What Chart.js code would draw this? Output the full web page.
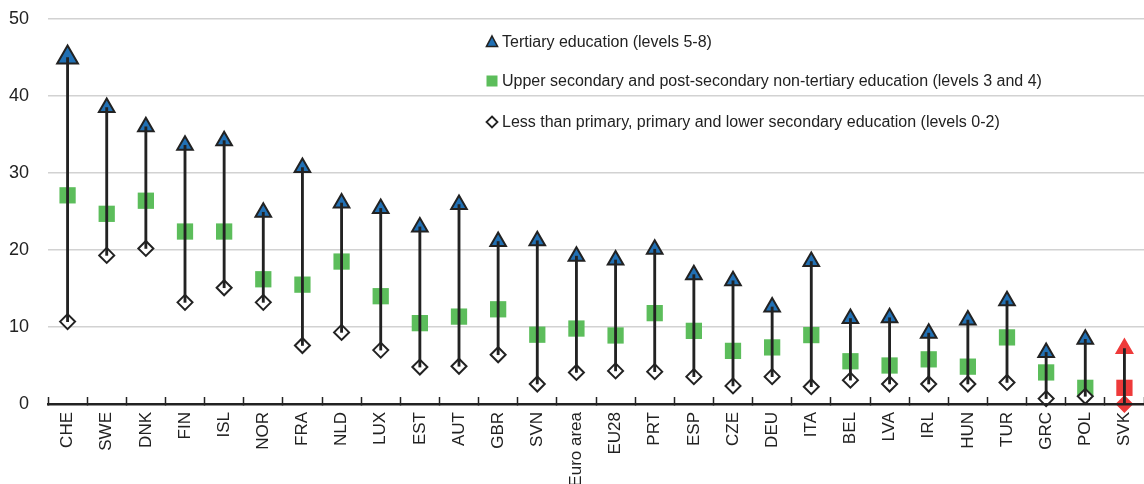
<!DOCTYPE html>
<html>
<head>
<meta charset="utf-8">
<script src="https://cdn.jsdelivr.net/npm/chart.js@4/dist/chart.umd.min.js"></script>
<style>
html,body{margin:0;padding:0;background:#fff;}
#wrap{width:1144px;height:484px;position:relative;}
</style>
</head>
<body>
<div id="wrap"><canvas id="c" width="1144" height="484"></canvas></div>
<script>
const categories = ['CHE','SWE','DNK','FIN','ISL','NOR','FRA','NLD','LUX','EST','AUT','GBR','SVN','Euro area','EU28','PRT','ESP','CZE','DEU','ITA','BEL','LVA','IRL','HUN','TUR','GRC','POL','SVK'];
const tertiary = [45.0,38.5,36.0,33.6,34.2,24.9,30.7,26.1,25.4,23.0,25.9,21.1,21.2,19.2,18.7,20.1,16.8,16.0,12.6,18.5,11.1,11.2,9.2,10.9,13.4,6.7,8.4,7.2];
const upperSecondary = [27.1,24.7,26.4,22.4,22.4,16.2,15.5,18.5,14.0,10.5,11.35,12.3,9.0,9.8,8.9,11.8,9.5,6.9,7.35,8.95,5.55,5.0,5.8,4.85,8.65,4.1,2.1,2.1];
const lowerSecondary = [10.7,19.3,20.2,13.2,15.1,13.2,7.6,9.3,7.0,4.8,4.9,6.4,2.6,4.1,4.3,4.2,3.55,2.35,3.55,2.25,3.1,2.6,2.6,2.6,2.8,0.7,1.0,0.0];
const seriesNames = ['Tertiary education (levels 5-8)','Upper secondary and post-secondary non-tertiary education (levels 3 and 4)','Less than primary, primary and lower secondary education (levels 0-2)'];
const yTicks = [0,10,20,30,40,50];
const highlight = 'SVK';

const BLUE = '#2170b4', GREEN = '#5cbd5b', RED = '#ee3a3a', INK = '#222222';
const isHi = c => categories[c.dataIndex] === highlight;

const ranges = categories.map((_, i) => {
  const v = [tertiary[i], upperSecondary[i], lowerSecondary[i]];
  return [Math.min(...v), Math.max(...v)];
});

const legendPlugin = {
  id: 'inlegend',
  afterDraw(chart) {
    const ctx = chart.ctx;
    const rows = [42, 81, 122];
    const mx = 492, tx = 502;
    ctx.save();
    ctx.font = '16px "Liberation Sans", Arial, sans-serif';
    ctx.fillStyle = INK;
    ctx.textBaseline = 'middle';
    ctx.textAlign = 'left';
    seriesNames.forEach((n, k) => {
      const y = rows[k];
      ctx.save();
      if (k === 0) {
        ctx.beginPath();
        ctx.moveTo(mx, y - 6); ctx.lineTo(mx + 5.5, y + 4.5); ctx.lineTo(mx - 5.5, y + 4.5); ctx.closePath();
        ctx.fillStyle = BLUE; ctx.fill(); ctx.lineWidth = 1.6; ctx.strokeStyle = INK; ctx.stroke();
      } else if (k === 1) {
        ctx.fillStyle = GREEN; ctx.fillRect(mx - 5.5, y - 5.5, 11, 11);
      } else {
        ctx.beginPath();
        ctx.moveTo(mx, y - 5.5); ctx.lineTo(mx + 5.5, y); ctx.lineTo(mx, y + 5.5); ctx.lineTo(mx - 5.5, y); ctx.closePath();
        ctx.fillStyle = '#fff'; ctx.fill(); ctx.lineWidth = 1.8; ctx.strokeStyle = INK; ctx.stroke();
      }
      ctx.restore();
      ctx.fillText(n, tx, y + 1);
    });
    ctx.restore();
  }
};

new Chart(document.getElementById('c'), {
  type: 'bar',
  data: {
    labels: categories,
    datasets: [
      {
        type: 'bar', label: 'range', data: ranges, backgroundColor: INK,
        barThickness: 2.2, borderWidth: 0, order: 0, grouped: false
      },
      {
        type: 'line', label: seriesNames[0], data: tertiary, showLine: false, order: 3, clip: false,
        pointStyle: 'triangle',
        pointRadius: c => c.dataIndex === 0 ? 12 : 9,
        pointBackgroundColor: c => isHi(c) ? RED : BLUE,
        pointBorderColor: c => isHi(c) ? RED : INK,
        pointBorderWidth: 2
      },
      {
        type: 'line', label: seriesNames[1], data: upperSecondary, showLine: false, order: 2, clip: false,
        pointStyle: 'rect', pointRadius: 11.5,
        pointBackgroundColor: c => isHi(c) ? RED : GREEN,
        pointBorderColor: c => isHi(c) ? RED : GREEN,
        pointBorderWidth: 0
      },
      {
        type: 'line', label: seriesNames[2], data: lowerSecondary, showLine: false, order: 1, clip: false,
        pointStyle: 'rectRot', pointRadius: 7.5,
        pointBackgroundColor: c => isHi(c) ? RED : '#ffffff',
        pointBorderColor: c => isHi(c) ? RED : INK,
        pointBorderWidth: 2
      }
    ]
  },
  options: {
    responsive: false,
    animation: false,
    layout: { autoPadding: false, padding: { top: 19, right: 0, left: 0, bottom: 0 } },
    plugins: { legend: { display: false }, tooltip: { enabled: false } },
    scales: {
      x: {
        offset: true,
        grid: { display: true, drawOnChartArea: false, drawTicks: true, tickLength: -7, offset: true, tickColor: INK, tickWidth: 1.5 },
        border: { display: true, color: INK, width: 2.5, z: 1 },
        ticks: {
          autoSkip: false, maxRotation: 90, minRotation: 90, padding: 15,
          color: INK, font: { family: '"Liberation Sans", Arial, sans-serif', size: 17 }
        },
        afterFit: s => { s.height = 80; s.paddingLeft = 0; s.paddingRight = 0; }
      },
      y: {
        min: 0, max: 50,
        afterBuildTicks: s => { s.ticks = yTicks.map(v => ({ value: v })); },
        grid: { color: '#d2d2d2', lineWidth: 1.5, drawTicks: false },
        border: { display: false },
        ticks: { padding: 19, color: INK, font: { family: '"Liberation Sans", Arial, sans-serif', size: 18 } },
        afterFit: s => { s.width = 48; s.paddingTop = 0; s.paddingBottom = 0; }
      }
    }
  },
  plugins: [legendPlugin]
});
</script>
</body>
</html>
